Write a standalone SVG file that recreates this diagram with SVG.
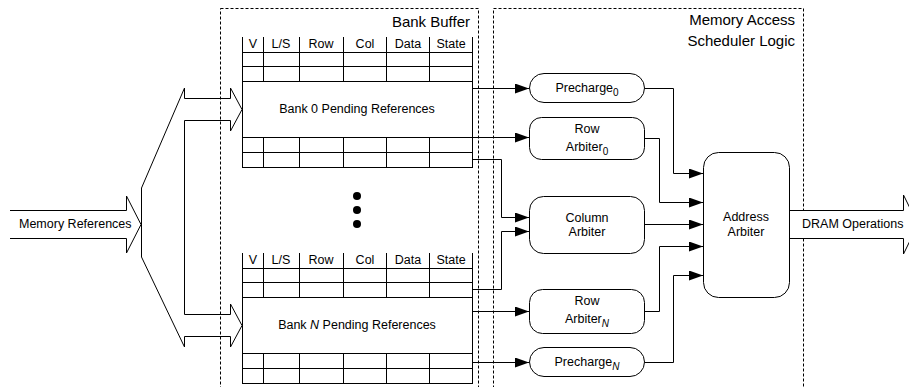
<svg xmlns="http://www.w3.org/2000/svg" width="909" height="387" viewBox="0 0 909 387">
<style>
text{font-family:"Liberation Sans",Arial,sans-serif;font-size:12.5px;fill:#000}
.big{font-size:15px}
.c{text-anchor:middle}
.e{text-anchor:end}
.ln{fill:none;stroke:#000;stroke-width:1}
.dash{fill:none;stroke:#000;stroke-width:1;stroke-dasharray:3,2}
.node{fill:#fff;stroke:#000;stroke-width:1}
.sub{font-size:10px}
</style>
<defs>
<marker id="ah" markerWidth="14" markerHeight="10" refX="14" refY="5" orient="auto" markerUnits="userSpaceOnUse">
<path d="M0,0 L14,5 L0,10 Z" fill="#000"/>
</marker>
</defs>
<rect width="909" height="387" fill="#fff"/>

<g id="bank-buffer">
<rect class="dash" x="220.5" y="8.5" width="258" height="400"/>
<text class="big e" x="470" y="27">Bank Buffer</text>
</g>
<g id="scheduler">
<rect class="dash" x="493.5" y="8.5" width="310" height="400"/>
<text class="big e" x="795" y="25">Memory Access</text>
<text class="big e" x="795" y="46">Scheduler Logic</text>
</g>

<g id="memory-references">
<path class="ln" d="M10,210.5 H126.5 V196 L141,224.5 L126.5,253 V238.5 H10"/>
<text x="19" y="228">Memory References</text>
</g>

<g id="fanout">
<path class="ln" d="M141.5,188 L184.5,88 V98.5 H230.5 V88 L242,109.5 L230.5,131 V120.5 H184.5 V314.5 H230.5 V304 L242,325.5 L230.5,347 V336.5 H184.5 V347 L141.5,257 Z"/>
</g>

<g id="bank0">
<rect class="node" x="242.5" y="52.5" width="230" height="115"/>
<path class="ln" d="M242.5,37 V52 M263.5,37 V81 M299.5,37 V81 M343.5,37 V81 M386.5,37 V81 M429.5,37 V81 M472.5,37 V52
M263.5,137 V167 M299.5,137 V167 M343.5,137 V167 M386.5,137 V167 M429.5,137 V167
M242.5,66.5 H472.5 M242.5,81.5 H472.5 M242.5,137.5 H472.5 M242.5,152.5 H472.5"/>
<text class="c" x="253" y="48">V</text>
<text class="c" x="281" y="48">L/S</text>
<text class="c" x="321" y="48">Row</text>
<text class="c" x="365" y="48">Col</text>
<text class="c" x="408" y="48">Data</text>
<text class="c" x="451" y="48">State</text>
<text class="c" x="357" y="113">Bank 0 Pending References</text>
</g>

<g id="dots">
<circle cx="357" cy="196" r="4"/>
<circle cx="357" cy="210" r="4"/>
<circle cx="357" cy="224" r="4"/>
</g>

<g id="bankN">
<rect class="node" x="242.5" y="268.5" width="230" height="115"/>
<path class="ln" d="M242.5,253 V268 M263.5,253 V297 M299.5,253 V297 M343.5,253 V297 M386.5,253 V297 M429.5,253 V297 M472.5,253 V268
M263.5,353 V383 M299.5,353 V383 M343.5,353 V383 M386.5,353 V383 M429.5,353 V383
M242.5,282.5 H472.5 M242.5,297.5 H472.5 M242.5,353.5 H472.5 M242.5,368.5 H472.5"/>
<text class="c" x="253" y="264">V</text>
<text class="c" x="281" y="264">L/S</text>
<text class="c" x="321" y="264">Row</text>
<text class="c" x="365" y="264">Col</text>
<text class="c" x="408" y="264">Data</text>
<text class="c" x="451" y="264">State</text>
<text class="c" x="357" y="329">Bank <tspan font-style="italic">N</tspan> Pending References</text>
</g>

<g id="connectors">
<path class="ln" marker-end="url(#ah)" d="M472.5,88.5 H529"/>
<path class="ln" marker-end="url(#ah)" d="M472.5,137.5 H529"/>
<path class="ln" marker-end="url(#ah)" d="M472.5,159.5 H501.5 V217.5 H529"/>
<path class="ln" marker-end="url(#ah)" d="M472.5,289.5 H501.5 V231.5 H529"/>
<path class="ln" marker-end="url(#ah)" d="M472.5,311.5 H529"/>
<path class="ln" marker-end="url(#ah)" d="M472.5,362.5 H529"/>
<path class="ln" marker-end="url(#ah)" d="M645,88.5 H673.5 V173.5 H703"/>
<path class="ln" marker-end="url(#ah)" d="M645,138.5 H659.5 V202.5 H703"/>
<path class="ln" marker-end="url(#ah)" d="M645,224.5 H703"/>
<path class="ln" marker-end="url(#ah)" d="M645,311.5 H659.5 V246.5 H703"/>
<path class="ln" marker-end="url(#ah)" d="M645,362.5 H673.5 V275.5 H703"/>
</g>

<g id="precharge0">
<rect class="node" x="529.5" y="73.5" width="115" height="29" rx="14.5"/>
<text class="c" x="587" y="92">Precharge<tspan class="sub" dy="4">0</tspan></text>
</g>
<g id="rowarbiter0">
<rect class="node" x="529.5" y="117.5" width="115" height="42" rx="12"/>
<text class="c" x="587" y="133">Row</text>
<text class="c" x="587" y="151">Arbiter<tspan class="sub" dy="4">0</tspan></text>
</g>
<g id="columnarbiter">
<rect class="node" x="529.5" y="196.5" width="115" height="57" rx="14"/>
<text class="c" x="587" y="222">Column</text>
<text class="c" x="587" y="236">Arbiter</text>
</g>
<g id="rowarbiterN">
<rect class="node" x="529.5" y="289.5" width="115" height="44" rx="13"/>
<text class="c" x="587" y="305">Row</text>
<text class="c" x="587" y="323">Arbiter<tspan class="sub" dy="4" font-style="italic">N</tspan></text>
</g>
<g id="prechargeN">
<rect class="node" x="529.5" y="347.5" width="115" height="29" rx="14.5"/>
<text class="c" x="587" y="366">Precharge<tspan class="sub" dy="4" font-style="italic">N</tspan></text>
</g>

<g id="addressarbiter">
<rect class="node" x="703.5" y="152.5" width="86" height="145" rx="15"/>
<text class="c" x="746" y="221">Address</text>
<text class="c" x="746" y="236">Arbiter</text>
</g>

<g id="dram-operations">
<path class="ln" d="M789.5,210.5 H903.5 V195 L918,224.5 L903.5,254 V238.5 H789.5"/>
<rect x="790" y="211" width="113" height="27" fill="#fff"/>
<text x="802" y="228">DRAM Operations</text>
</g>
</svg>
